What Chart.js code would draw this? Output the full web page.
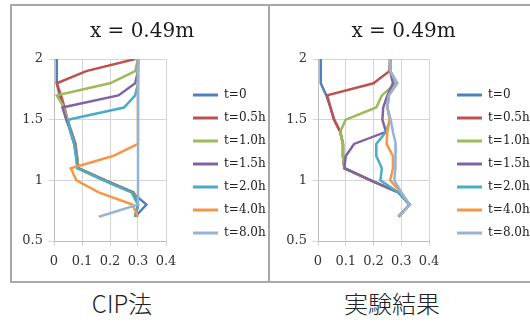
<!DOCTYPE html>
<html>
<head>
<meta charset="utf-8">
<script src="https://cdn.jsdelivr.net/npm/chart.js@4.4.0/dist/chart.umd.min.js"></script>
<style>
  html, body { margin: 0; padding: 0; background: #fff; width: 530px; height: 329px; overflow: hidden; }
  body { position: relative; }
  .frame { position: absolute; left: 10px; top: 4px; width: 600px; height: 275px; border: 2px solid #a8a8a8; }
  .divider { position: absolute; left: 268px; top: 4px; width: 2px; height: 279px; background: #a8a8a8; }
  canvas { position: absolute; top: 7px; }
  #cip { left: 12px; }
  #exp { left: 271px; }
  .caption { position: absolute; top: 288px; width: 200px; text-align: center; line-height: 30px;
    font-family: "Noto Sans CJK JP", sans-serif; font-size: 24px; font-weight: 300; color: #222; }
</style>
</head>
<body>
<div class="frame"></div>
<div class="divider"></div>
<canvas id="cip" width="256" height="273"></canvas>
<canvas id="exp" width="264" height="273"></canvas>
<div class="caption" style="left:22px">CIP法</div>
<div class="caption" style="left:292px">実験結果</div>
<script>
// bed height (m) at each measuring level, top to bottom
const depths = [2.0, 1.9, 1.8, 1.7, 1.6, 1.5, 1.4, 1.3, 1.2, 1.1, 1.0, 0.9, 0.8, 0.7];
const labels = ["t=0", "t=0.5h", "t=1.0h", "t=1.5h", "t=2.0h", "t=4.0h", "t=8.0h"];
const colors = ["#4F81BD", "#C0504D", "#9BBB59", "#8064A2", "#4BACC6", "#F79646", "#95B3D7"];

// CIP method
const cipT0  = [0.01, 0.01, 0.01, 0.02, 0.035, 0.045, 0.06, 0.072, 0.08, 0.085, 0.18, 0.28, 0.33, 0.29];
const cipT05 = [0.29, 0.115, 0.01, 0.025, 0.038, 0.048, 0.063, 0.077, 0.082, 0.087, 0.185, 0.285, 0.3, 0.29];
const cipT10 = [0.3, 0.29, 0.2, 0.01, 0.036, 0.047, 0.062, 0.075, 0.082, 0.087, 0.183, 0.283, 0.3, 0.29];
const cipT15 = [0.3, 0.3, 0.29, 0.23, 0.03, 0.044, 0.06, 0.074, 0.08, 0.085, 0.18, 0.28, 0.3, 0.29];
const cipT20 = [0.3, 0.3, 0.3, 0.29, 0.25, 0.05, 0.058, 0.072, 0.078, 0.083, 0.177, 0.277, 0.3, 0.29];
const cipT40 = [0.3, 0.3, 0.3, 0.3, 0.3, 0.3, 0.3, 0.3, 0.21, 0.06, 0.08, 0.16, 0.28, 0.3];
const cipT80 = [0.3, 0.3, 0.3, 0.3, 0.3, 0.3, 0.3, 0.3, 0.3, 0.3, 0.3, 0.3, 0.3, 0.16];

// experiment
const expT0  = [0.01, 0.01, 0.01, 0.03, 0.045, 0.058, 0.08, 0.09, 0.09, 0.095, 0.19, 0.29, 0.33, 0.29];
const expT05 = [0.26, 0.257, 0.2, 0.033, 0.045, 0.058, 0.08, 0.09, 0.09, 0.095, 0.19, 0.29, 0.33, 0.29];
const expT10 = [0.26, 0.26, 0.28, 0.23, 0.21, 0.1, 0.08, 0.09, 0.09, 0.095, 0.19, 0.29, 0.33, 0.29];
const expT15 = [0.26, 0.26, 0.27, 0.25, 0.235, 0.232, 0.245, 0.13, 0.1, 0.095, 0.19, 0.29, 0.33, 0.29];
const expT20 = [0.26, 0.26, 0.285, 0.255, 0.25, 0.26, 0.245, 0.21, 0.21, 0.23, 0.225, 0.29, 0.33, 0.29];
const expT40 = [0.26, 0.26, 0.285, 0.255, 0.25, 0.258, 0.25, 0.247, 0.27, 0.27, 0.26, 0.3, 0.33, 0.29];
const expT80 = [0.26, 0.26, 0.285, 0.255, 0.25, 0.262, 0.27, 0.28, 0.28, 0.278, 0.275, 0.3, 0.33, 0.29];

const cipSeries = [cipT0, cipT05, cipT10, cipT15, cipT20, cipT40, cipT80];
const expSeries = [expT0, expT05, expT10, expT15, expT20, expT40, expT80];

const tickFont = { family: "DejaVu Serif", size: 13 };
const gridColor = "#d4d4d4";

// excel-like placement: legend sits lower and a bit away from the plot,
// title centred on the whole panel rather than the padded box
const panelFix = {
  id: "panelFix",
  afterLayout(chart, args, opts) {
    const lg = chart.legend;
    lg.left += opts.dx;
    lg.right = chart.width;
    lg.top += opts.dy;
    lg.bottom += opts.dy;
    chart.titleBlock.left = 0;
    chart.titleBlock.right = opts.titleRight;
  },
};

function makeChart(id, series, yAxisWidth, padRight, fix) {
  const datasets = series.map((vals, i) => ({
    label: labels[i],
    data: depths.map((d, k) => ({ x: vals[k], y: d })),
    borderColor: colors[i],
    backgroundColor: colors[i],
    borderWidth: 2.5,
    pointRadius: 0,
    showLine: true,
    tension: 0,
    order: series.length - i, // later series on top
  }));

  return new Chart(document.getElementById(id), {
    type: "scatter",
    data: { datasets },
    plugins: [panelFix],
    options: {
      responsive: false,
      animation: false,
      layout: { padding: { left: 0, right: padRight, top: 0, bottom: 9 } },
      plugins: {
        panelFix: fix,
        tooltip: { enabled: false },
        title: {
          display: true,
          text: "x = 0.49m",
          color: "#1a1a1a",
          font: { family: "DejaVu Serif", size: 20, weight: "normal", lineHeight: 1.2 },
          padding: { top: 13, bottom: 15 },
        },
        legend: {
          position: "right",
          maxWidth: 80,
          labels: {
            boxWidth: 25,
            boxHeight: 3,
            padding: 11,
            color: "#222",
            font: { family: "DejaVu Serif", size: 12 },
            sort: (a, b) => a.datasetIndex - b.datasetIndex,
            generateLabels: (chart) =>
              Chart.defaults.plugins.legend.labels.generateLabels(chart).map((l) => ({ ...l, lineWidth: 0 })),
          },
        },
      },
      scales: {
        x: {
          type: "linear",
          min: 0,
          max: 0.4,
          ticks: {
            stepSize: 0.1,
            font: tickFont,
            color: "#333",
            padding: 8,
            callback: (v) => String(Math.round(v * 10) / 10),
          },
          grid: { color: gridColor, tickColor: gridColor, tickLength: 5 },
          border: { color: "#bdbdbd" },
          afterFit: (s) => { s.height = 30; },
        },
        y: {
          type: "linear",
          min: 0.5,
          max: 2,
          ticks: {
            stepSize: 0.5,
            font: tickFont,
            color: "#333",
            padding: 6,
            callback: (v) => String(Math.round(v * 10) / 10),
          },
          grid: { color: gridColor, tickColor: gridColor, tickLength: 5 },
          border: { color: "#bdbdbd" },
          afterFit: (s) => { s.width = yAxisWidth; },
        },
      },
    },
  });
}

makeChart("cip", cipSeries, 42, 22, { dx: 16, dy: 25, titleRight: 260 });
makeChart("exp", expSeries, 47, 26, { dx: 17, dy: 25, titleRight: 265 });
</script>
</body>
</html>
